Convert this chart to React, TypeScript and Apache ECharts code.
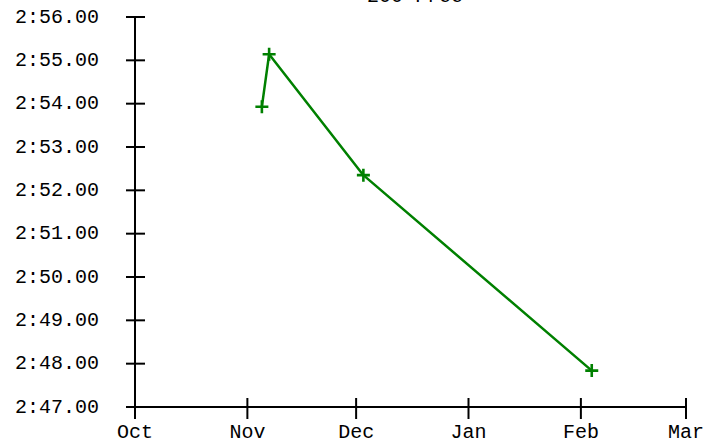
import React, { useEffect, useRef } from "react";
import * as echarts from "echarts";

const title = "200 Free";
const swimDates = ["2023-11-05", "2023-11-07", "2023-12-03", "2024-02-04"];
const swimTimes = [173.93, 175.14, 172.35, 167.84];
const monthNames = ["Jan", "Feb", "Mar", "Apr", "May", "Jun", "Jul", "Aug", "Sep", "Oct", "Nov", "Dec"];
const xTickDates = ["2023-10-01", "2023-11-01", "2023-12-01", "2024-01-01", "2024-02-01", "2024-03-01"];
const yTickValues = [167, 168, 169, 170, 171, 172, 173, 174, 175, 176];
const xMin = "2023-10-01";
const xMax = "2024-03-01";
const yMin = 167;
const yMax = 176;

const fmtTime = (v: number) => {
  const m = Math.floor(v / 60);
  const s = v - m * 60;
  return `${m}:${s.toFixed(2).padStart(5, "0")}`;
};

const FONT = "'Liberation Mono', 'Courier New', monospace";
const PLUS = "path://M4,0 H6 V4 H10 V6 H6 V10 H4 V6 H0 V4 H4 Z";

export default function App() {
  const ref = useRef<HTMLDivElement>(null);
  useEffect(() => {
    if (!ref.current) return;
    const chart = echarts.init(ref.current, undefined, { renderer: "svg" });
    const data = swimDates.map((d, i) => [d, swimTimes[i]]);
    const tickStyle = { stroke: "#000", lineWidth: 2 };
    chart.setOption({
      animation: false,
      backgroundColor: "#ffffff",
      title: {
        text: title,
        left: 410,
        textAlign: "center",
        top: -19,
        textStyle: { fontFamily: FONT, fontSize: 20, fontWeight: "normal", color: "#000" },
      },
      grid: { left: 135, right: 18, top: 17, bottom: 34, outerBoundsMode: "none", containLabel: false },
      xAxis: {
        type: "time",
        min: xMin,
        max: xMax,
        splitNumber: 5,
        splitLine: { show: false },
        axisLine: { show: true, lineStyle: { color: "#000", width: 2 } },
        axisTick: { show: false },
        axisLabel: {
          fontFamily: FONT,
          fontSize: 20,
          lineHeight: 16,
          color: "#000",
          margin: 17,
          hideOverlap: false,
          showMinLabel: true,
          showMaxLabel: true,
          formatter: (v: number) => monthNames[new Date(v).getMonth()],
        },
      },
      yAxis: {
        type: "value",
        min: yMin,
        max: yMax,
        interval: 1,
        splitLine: { show: false },
        axisLine: { show: true, lineStyle: { color: "#000", width: 2 } },
        axisTick: { show: false },
        axisLabel: {
          fontFamily: FONT,
          fontSize: 20,
          color: "#000",
          margin: 36,
          formatter: (v: number) => fmtTime(v),
        },
      },
      series: [
        {
          type: "custom",
          silent: true,
          clip: false,
          data: yTickValues.map((v) => [xMin, v]),
          encode: { x: 0, y: 1 },
          renderItem: (params: any, api: any) => {
            const p = api.coord([api.value(0), api.value(1)]);
            return {
              type: "line",
              shape: { x1: p[0] - 9, y1: p[1], x2: p[0] + 10, y2: p[1] },
              style: tickStyle,
            };
          },
        },
        {
          type: "custom",
          silent: true,
          clip: false,
          data: xTickDates.map((d) => [d, yMin]),
          encode: { x: 0, y: 1 },
          renderItem: (params: any, api: any) => {
            const p = api.coord([api.value(0), api.value(1)]);
            return {
              type: "line",
              shape: { x1: p[0], y1: p[1] - 9, x2: p[0], y2: p[1] + 12 },
              style: tickStyle,
            };
          },
        },
        {
          type: "line",
          data,
          symbol: PLUS,
          symbolSize: 13,
          showAllSymbol: true,
          lineStyle: { color: "#008000", width: 2.5 },
          itemStyle: { color: "#008000" },
        },
      ],
    });
    return () => chart.dispose();
  }, []);
  return (
    <div
      ref={ref}
      style={{ position: "absolute", left: 0, top: 0, width: 704, height: 441 }}
    />
  );
}
